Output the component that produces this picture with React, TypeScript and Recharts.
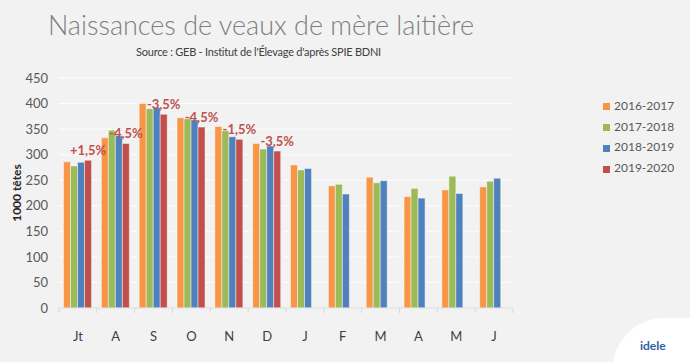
import { Bar, BarChart, CartesianGrid, LabelList, Legend, XAxis, YAxis, Label } from "recharts";

const months = ["Jt", "A", "S", "O", "N", "D", "J", "F", "M", "A", "M", "J"];
const s1617 = [286, 333, 400, 372, 355, 322, 280, 239, 256, 218, 231, 237];
const s1718 = [278, 348, 390, 370, 347, 311, 270, 242, 245, 234, 258, 248];
const s1819 = [285, 337, 392, 368, 335, 317, 273, 223, 249, 215, 224, 254];
const s1920 = [289, 322, 379, 354, 330, 307, null, null, null, null, null, null];
const pct = ["+1,5%", "-4,5%", "-3,5%", "-4,5%", "-1,5%", "-3,5%", "", "", "", "", "", ""];
const yTicks = [0, 50, 100, 150, 200, 250, 300, 350, 400, 450];

const font = "Lato, 'Open Sans', sans-serif";

const data = months.map((m, i) => ({
  month: m,
  a: s1617[i],
  b: s1718[i],
  c: s1819[i],
  d: s1920[i],
  pct: pct[i],
}));

function MonthTick(props: any) {
  const { x, y, payload, index, visibleTicksCount } = props;
  const off = payload?.offset ?? 0;
  return (
    <g>
      <line x1={x - off} x2={x - off} y1={y} y2={y + 5} stroke="#d9d9d9" />
      {index === visibleTicksCount - 1 ? (
        <line x1={x + off} x2={x + off} y1={y} y2={y + 5} stroke="#d9d9d9" />
      ) : null}
      <text x={x} y={y + 28} dy="0.35em" textAnchor="middle" fill="#404040" fontSize={13} fontFamily={font}>
        {payload.value}
      </text>
    </g>
  );
}

export default function App() {
  return (
    <div style={{ position: "absolute", left: 0, top: 0, width: 690, height: 362, background: "#f2f2f2", fontFamily: font, overflow: "hidden" }}>
      <div style={{ position: "absolute", left: 0, width: 522, top: 8, textAlign: "center", fontSize: 27, fontWeight: 300, color: "#7f7f7f", whiteSpace: "nowrap" }}>
        Naissances de veaux de mère laitière
      </div>
      <div style={{ position: "absolute", left: 0, width: 517, top: 45, textAlign: "center", fontSize: 11, color: "#404040", whiteSpace: "nowrap", letterSpacing: -0.25 }}>
        Source : GEB - Institut de l'Élevage d'après SPIE BDNI
      </div>
      <div style={{ position: "absolute", left: 0, top: 0 }}>
        <BarChart
          width={690}
          height={362}
          data={data}
          margin={{ top: 78, right: 90, left: 0, bottom: 14 }}
          barCategoryGap="12%"
          barGap={0}
        >
          <CartesianGrid vertical={false} stroke="#ffffff" strokeDasharray="6 2" />
          <XAxis
            dataKey="month"
            height={40}
            tickLine={false}
            tickSize={0}
            tickMargin={0}
            axisLine={{ stroke: "#d9d9d9" }}
            tick={<MonthTick />}
            interval={0}
          />
          <YAxis
            width={59}
            domain={[0, 450]}
            ticks={yTicks}
            tickLine={false}
            axisLine={false}
            tickSize={0}
            tickMargin={11}
            tick={{ fill: "#595959", fontSize: 13, fontFamily: font }}
          >
            <Label
              value="1000 têtes"
              angle={-90}
              position="insideLeft"
              offset={17}
              style={{ textAnchor: "middle", fontWeight: 700, fontSize: 12, fill: "#262626", fontFamily: font }}
            />
          </YAxis>
          <Legend
            layout="vertical"
            verticalAlign="top"
            align="right"
            iconType="square"
            iconSize={7}
            wrapperStyle={{ left: 603, top: 96, width: 87, fontSize: 12, lineHeight: "20.7px", fontFamily: font }}
            formatter={(v) => <span style={{ color: "#595959" }}>{v}</span>}
          />
          <Bar dataKey="a" name="2016-2017" fill="#f79646" stroke="rgba(255,255,255,0.45)" isAnimationActive={false} />
          <Bar dataKey="b" name="2017-2018" fill="#9bbb59" stroke="rgba(255,255,255,0.45)" isAnimationActive={false} />
          <Bar dataKey="c" name="2018-2019" fill="#4f81bd" stroke="rgba(255,255,255,0.45)" isAnimationActive={false} />
          <Bar dataKey="d" name="2019-2020" fill="#c0504d" stroke="rgba(255,255,255,0.45)" isAnimationActive={false}>
            <LabelList dataKey="pct" position="top" offset={5} fill="#c0504d" fontSize={13} fontWeight={700} fontFamily={font} />
          </Bar>
        </BarChart>
      </div>
      <div style={{ position: "absolute", left: 616, top: 318, width: 90, height: 60, background: "#ffffff", borderTopLeftRadius: 40, transform: "skewX(-12deg)" }} />
      <div style={{ position: "absolute", left: 640, top: 338, fontSize: 12, fontWeight: 700, color: "#2e5fa8", fontFamily: font }}>
        idele
      </div>
    </div>
  );
}
